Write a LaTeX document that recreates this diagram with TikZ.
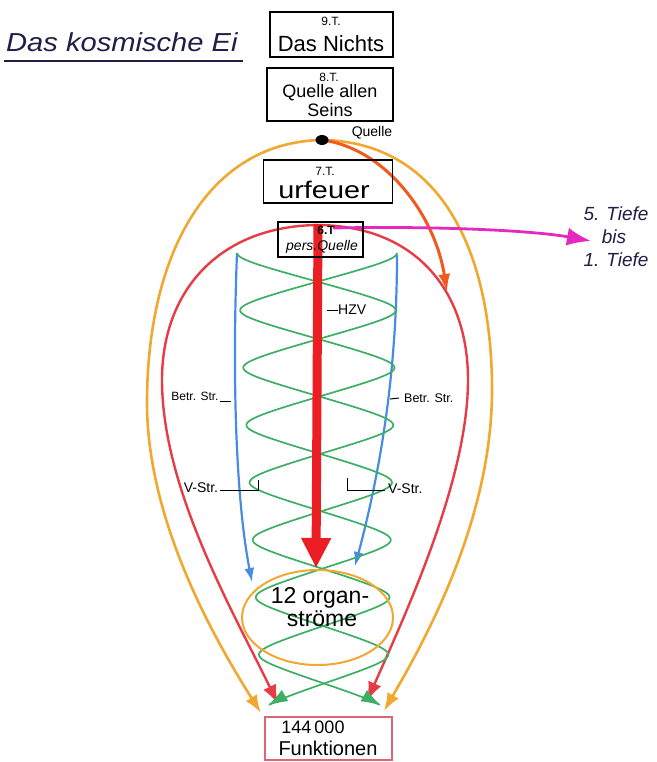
\documentclass[tikz,border=0pt]{standalone}
\usepackage{fontspec}
\setmainfont{Liberation Sans}
\usetikzlibrary{arrows.meta,shapes.geometric,calc}
\definecolor{eiorange}{RGB}{240,168,48}
\definecolor{orred}{RGB}{240,90,30}
\definecolor{eired}{RGB}{230,60,70}
\definecolor{hzvred}{RGB}{235,30,35}
\definecolor{eiblue}{RGB}{70,140,225}
\definecolor{eigreen}{RGB}{60,175,100}
\definecolor{eimag}{RGB}{230,40,190}
\definecolor{boxred}{RGB}{225,100,115}
\definecolor{navy}{RGB}{30,30,70}
\pgfdeclarelayer{bg}
\pgfsetlayers{bg,main}
\newcommand{\fs}[1]{\fontsize{#1}{#1}\selectfont}
\begin{document}
\begin{tikzpicture}[x=1pt,y=-1pt,
  tbox/.style={draw=black,line width=1.3pt,inner sep=0pt},
  lab/.style={inner sep=0pt,text=black},
  eggo/.style={draw=eiorange,line width=2.6pt,-{Latex[length=18pt,width=13pt]}},
  eggr/.style={draw=eired,line width=2.4pt,-{Latex[length=19pt,width=14pt]}},
  bluel/.style={draw=eiblue,line width=2.2pt,-{Latex[length=14pt,width=10pt]}},
  greenl/.style={draw=eigreen,line width=1.7pt,-{Latex[length=20pt,width=13pt]}},
  leader/.style={draw=black,line width=1pt}]
\useasboundingbox (0,0) rectangle (656,762);

% title
\node[lab,anchor=base west,font=\fs{26}\itshape,text=navy] (title) at (6,52) {\scalebox{1.12}[1]{Das kosmische Ei}};
\coordinate (ul0) at (4,61);
\coordinate (ul1) at (243,61);
\draw[navy,line width=1.8pt] (ul0) -- (ul1);

% boxes
\node[tbox,minimum width=123pt,minimum height=45pt] (t9) at (331.5,34.5) {};
\node[lab,font=\fs{12}] (t9a) at (331,21) {9.T.};
\node[lab,font=\fs{22}] (t9b) at (331,44) {Das Nichts};

\node[tbox,minimum width=126pt,minimum height=53pt] (t8) at (330,94.5) {};
\node[lab,font=\fs{12}] (t8a) at (329,77) {8.T.};
\node[lab,font=\fs{18}] (t8b) at (330,93) {Quelle allen};
\node[lab,font=\fs{18}] (t8c) at (330,110) {Seins};

\node[ellipse,fill=black,minimum width=13pt,minimum height=10pt,inner sep=0pt] (dot) at (322,140) {};
\node[lab,font=\fs{14}] (quelle) at (372,133) {Quelle};

\node[tbox,minimum width=129pt,minimum height=43pt] (t7) at (328,181.5) {};
\node[lab,font=\fs{12}] (t7a) at (325,171) {7.T.};
\node[lab,font=\fs{24}] (t7b) at (324,190) {\scalebox{1.2}[1]{urfeuer}};

\node[tbox,minimum width=85pt,minimum height=35pt] (t6) at (320.5,239.5) {};
\node[lab,font=\fs{12}\bfseries] (t6a) at (326,230) {6.T};
\node[lab,font=\fs{14}\itshape] (t6b) at (322,247) {pers.Quelle};

% right text
\node[lab,font=\fs{19}\itshape,text=navy] (tf5) at (616,214) {5. Tiefe};
\node[lab,font=\fs{19}\itshape,text=navy] (tfb) at (614,237) {bis};
\node[lab,font=\fs{19}\itshape,text=navy] (tf1) at (616,260) {1. Tiefe};

% organ ellipse and bottom box
\node[ellipse,draw=eiorange,line width=2pt,minimum width=151pt,minimum height=95pt,inner sep=0pt] (organ) at (317.5,617.5) {};
\node[lab,font=\fs{23}] (org1) at (320,598) {12 organ-};
\node[lab,font=\fs{23}] (org2) at (322,619) {ströme};

\node[draw=boxred,line width=1.3pt,inner sep=0pt,minimum width=127pt,minimum height=43pt] (fk) at (328.5,738.5) {};
\node[lab,font=\fs{18}] (fk1) at (313,727) {144\,000};
\node[lab,font=\fs{20}] (fk2) at (328,748) {Funktionen};

% labels
\node[lab,anchor=west,font=\fs{14}] (hzv) at (338,310) {HZV};
\node[lab,font=\fs{12}] (bsl) at (195,396) {Betr. Str.};
\node[lab,anchor=west,font=\fs{12.5}] (bsr) at (404,398) {Betr. Str.};
\node[lab,font=\fs{14}] (vsl) at (201,488) {V-Str.};
\node[lab,anchor=west,font=\fs{14}] (vsr) at (388,489) {V-Str.};

% coordinates
\coordinate (oL) at (261,713);
\coordinate (oR) at (384,711);
\coordinate (rtop) at (318,225);
\coordinate (rL) at (278,704);
\coordinate (rR) at (367,701);
\coordinate (or1) at (447,292);
\coordinate (bLt) at (237,253);
\coordinate (bL) at (252,582);
\coordinate (bRt) at (397,255);
\coordinate (bR) at (355,566);
\coordinate (h0) at (318,224);
\coordinate (h1) at (316,568);
\coordinate (m0) at (333,228);
\coordinate (m1) at (591,241);

\begin{pgfonlayer}{bg}
% orange egg
\draw[eggo] (dot.center) .. controls (210,142) and (148,250) .. (147,400) .. controls (146,520) and (215,640) .. (oL);
\draw[eggo] (dot.center) .. controls (440,142) and (492,250) .. (492,390) .. controls (492,520) and (425,640) .. (oR);
% orange-red arrow
\draw[orred,line width=3pt,-{Latex[length=18pt,width=12pt]}] (dot.center) .. controls (385,148) and (435,215) .. (or1);
% red egg
\draw[eggr] (rtop) .. controls (220,226) and (162,290) .. (162,380) .. controls (162,490) and (235,615) .. (rL);
\draw[eggr] (rtop) .. controls (415,226) and (468,290) .. (468,380) .. controls (468,480) and (405,615) .. (rR);
% blue
\draw[bluel] (bLt) .. controls (232,380) and (236,500) .. (bL);
\draw[bluel] (bRt) .. controls (397,380) and (378,480) .. (bR);
% green double helix
\draw[greenl] plot[domain=0:24.78,samples=500,variable=\t] ({317+0.3*\t-(80-0.7*\t)*asin(0.86*cos(\t r))/59.32},{253+18.27*\t});
\draw[greenl] plot[domain=0:24.78,samples=500,variable=\t] ({317+0.3*\t+(80-0.7*\t)*asin(0.86*cos(\t r))/59.32},{253+18.27*\t});
% HZV
\draw[hzvred,line width=9pt,-{Triangle[length=30pt,width=28pt]}] (h0) -- (h1);
% magenta
\draw[eimag,line width=2.8pt,-{Latex[length=24pt,width=18pt]}] (m0) .. controls (430,226) and (530,230) .. (m1);
\end{pgfonlayer}

% leaders
\coordinate (hz0) at (327,310);
\draw[leader] (hz0) -- (hzv.west);
\coordinate (bl1) at (231,401);
\draw[leader] ($(bsl.east)+(1,5)$) -- (bl1);
\coordinate (br1) at (390,399);
\draw[leader] (br1) -- ($(bsr.west)+(-5,0)$);
\coordinate (vl1) at (258,490);
\coordinate (vl2) at (258,480);
\draw[leader] ($(vsl.east)+(2,2)$) -- (vl1) -- (vl2);
\coordinate (vr1) at (347,478);
\coordinate (vr2) at (347,490);
\draw[leader] (vr1) -- (vr2) -- ($(vsr.west)+(-3,1)$);
\end{tikzpicture}
\end{document}
